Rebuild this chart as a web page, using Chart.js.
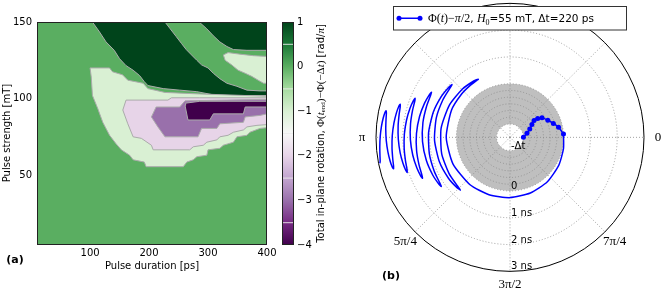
<!DOCTYPE html>
<html>
<head>
<meta charset="utf-8">
<script src="https://cdn.jsdelivr.net/npm/chart.js@4.4.0/dist/chart.umd.min.js"></script>
<style>
  html, body { margin: 0; padding: 0; background: #fff; }
  #wrap { position: relative; width: 664px; height: 292px; overflow: hidden; }
  #wrap canvas { position: absolute; left: 0; top: 0; }
</style>
</head>
<body>
<div id="wrap">
  <canvas id="contour" width="664" height="292"></canvas>
  <canvas id="cbar" width="664" height="292"></canvas>
  <canvas id="polar" width="664" height="292"></canvas>
</div>
<script>
// ---- panel (a): contour map, data units = [ps, mT] ----
const xTicks = [100, 200, 300, 400];
const yTicks = [50, 100, 150];
const cbarTicks = [1, 0, -1, -2, -3, -4];
const cbarLevels = [0.5, -0.5, -1.5, -2.5, -3.5];
const VMIN = -4, VMAX = 1;
const backgroundValue = 0;

// PRGn colour map stops
const prgn = ["#40004b", "#762a83", "#9970ab", "#c2a5cf", "#e7d4e8", "#f7f7f7",
              "#d9f0d3", "#a6dba0", "#5aae61", "#1b7837", "#00441b"];

// contour regions [duration, strength]
const regionA = [[104,150],[227,150],[235,146],[246,140.5],[255,136],[263,132],[272,128.5],[281,125],
  [289,122],[300,120],[309,116.5],[320,113],[332,110],[349,108],[366,105.5],[388,105],[400,105],
  [400,102],[315,102],[281,104.5],[252,105.5],[224,106.5],[198,108.5],[192,111],[184,115],
  [173,118.5],[161,121.5],[150,126],[141,131.5],[127,137],[116,143.5],[104,150]];
const regionB = [[285,150],[298,145.5],[309,141],[320,137],[332,134],[343,132],[366,131.5],[400,131.5],
  [400,150],[285,150]];
const regionC = [[326,128.5],[334,130],[354,129],[377,128],[400,127.5],[400,110],[394,110],[385,112],
  [374,114.5],[363,116.5],[351,118.5],[340,122],[329,125],[326,128.5]];
const regionD = [[100,120],[133,120],[138,117.5],[155,115.5],[164,112],[190,110],[198,106.5],[227,104],
  [286,103],[400,101.5],[400,81],[388,80.5],[371,78],[366,76],[349,75],[343,71.5],[326,69.5],
  [320,67.5],[300,66.5],[298,63],[281,62],[275,60],[264,58.5],[258,55.5],[195,55.5],[192,58.5],
  [173,60],[167,63],[153,66.5],[144,70.5],[133,76],[121.5,84.5],[113,93.5],[104,102],[102,114],[100,120]];
const regionE = [[161,99],[232,99],[238,100.5],[286,100.5],[400,100.5],[400,83],[383,82.5],[366,81.5],
  [360,79.5],[343,78],[334,76],[320,75],[315,73],[298,71.5],[292,69.5],[275,68.5],[269,66.5],
  [207,66.5],[204,69.5],[187,74],[173,75],[164,83.5],[155.5,92.5],[161,99]];
const regionF = [[212,94.5],[252,94.5],[261,98.5],[400,99.5],[400,90],[388,89],[363,88],[360,84.5],
  [320,83.5],[315,80.5],[289,80.5],[283,75],[227,75],[215,81.5],[204,88],[212,94.5]];
const regionG = [[262,97],[286,98.2],[400,98.2],[400,94.5],[363,94.5],[360,90],[309,90],[303,86],
  [266,86],[261,95.5],[262,97]];
const regions = [regionA, regionB, regionC, regionD, regionE, regionF, regionG];
const regionValues = [1, 1, -1, -1, -2, -3, -4];

// ---- panel (b): polar trajectory, r in plot units, phase in degrees ----
const pulseR = [0.5, 0.65, 0.8, 0.95, 1.1, 1.25, 1.4, 1.55, 1.7, 1.85, 2.0];
const pulsePhase = [0, 13.5, 22.8, 30.6, 35.3, 34.3, 31.5, 24.4, 17.9, 11.7, 3.6];

const relaxR = [
  2.00, 2.04, 2.10, 2.17, 2.22, 2.26, 2.29, 2.32, 2.35, 2.38, 2.41, 2.43, 2.45, 2.465,
  2.480, 2.508, 2.536, 2.564, 2.593, 2.621, 2.649, 2.677,
  2.705, 2.733, 2.761, 2.789, 2.818, 2.846, 2.874, 2.902,
  2.930, 2.958, 2.986, 3.014, 3.043, 3.071, 3.099, 3.127,
  3.155, 3.183, 3.211, 3.239, 3.268, 3.296, 3.324, 3.352,
  3.380, 3.408, 3.436, 3.464, 3.493, 3.521, 3.549, 3.577,
  3.605, 3.633, 3.661, 3.689, 3.718, 3.746, 3.774, 3.802,
  3.830, 3.858, 3.886, 3.914, 3.943, 3.971, 3.999, 4.027,
  4.055, 4.083, 4.111, 4.139, 4.168, 4.196, 4.224, 4.252,
  4.280, 4.308, 4.336, 4.364, 4.393, 4.421, 4.449, 4.477,
  4.505, 4.533, 4.561, 4.589, 4.618, 4.646, 4.674, 4.702,
  4.730, 4.758, 4.786, 4.814, 4.843, 4.871, 4.899, 4.927, 4.955];
const relaxPhase = [
  3.6, -12, -30, -50, -70, -90, -110, -130, -155, -180, -205, -222, -233, -239,
  -241.5, -237.4, -225.6, -208.1, -187.4, -166.6, -149.1, -137.3,
  -133.2, -136.6, -146.3, -160.8, -177.9, -194.9, -209.4, -219.1,
  -222.5, -219.5, -211.0, -198.4, -183.4, -168.4, -155.8, -147.3,
  -144.3, -146.8, -153.9, -164.6, -177.2, -189.7, -200.4, -207.5,
  -210.0, -207.9, -201.9, -193.0, -182.4, -171.8, -162.9, -156.9,
  -154.8, -156.6, -161.8, -169.5, -178.7, -187.8, -195.5, -200.7,
  -202.5, -200.9, -196.4, -189.7, -181.8, -173.8, -167.1, -162.6,
  -161.0, -162.4, -166.3, -172.1, -179.0, -185.8, -191.6, -195.5,
  -196.9, -195.7, -192.2, -187.0, -180.9, -174.7, -169.5, -166.0,
  -164.8, -165.8, -168.8, -173.3, -178.5, -183.7, -188.2, -191.2,
  -192.2, -191.3, -188.7, -184.9, -180.4, -175.9, -172.1, -169.5, -168.6];

const rGrid = [0.5, 0.75, 1, 1.25, 1.5, 1.75, 2, 3, 4];
const rMax = 5;
const shadeR = [0.5, 2];
const rTickValues = [0.5, 2, 3, 4, 5];
const rTickLabels = ["-\u0394t", "0", "1 ns", "2 ns", "3 ns"];
const thetaGrid = [0, 45, 90, 135, 180, 225, 270, 315];
const thetaTickValues = [0, 180, 225, 270, 315];
const thetaTickLabels = ["0", "\u03c0", "5\u03c0/4", "3\u03c0/2", "7\u03c0/4"];

const SANS = '"DejaVu Sans"';
const SERIF = '"Liberation Serif"';

function hexToRgb(h) {
  return [parseInt(h.slice(1, 3), 16), parseInt(h.slice(3, 5), 16), parseInt(h.slice(5, 7), 16)];
}

function cmap(v) {
  const t = (v - VMIN) / (VMAX - VMIN) * (prgn.length - 1);
  const i = Math.max(0, Math.min(prgn.length - 2, Math.floor(t)));
  const f = t - i;
  const a = hexToRgb(prgn[i]), b = hexToRgb(prgn[i + 1]);
  const c = a.map((x, k) => Math.round(x + (b[k] - x) * f));
  return "rgb(" + c.join(",") + ")";
}

function drawParts(ctx, parts, x, y) {
  let w = 0;
  parts.forEach((p) => { ctx.font = p.font; p.w = ctx.measureText(p.text).width; w += p.w; });
  let cx = x - w / 2;
  parts.forEach((p) => {
    ctx.font = p.font;
    ctx.fillText(p.text, cx, y + (p.dy || 0));
    cx += p.w;
  });
}

function toXY(r, deg) {
  const a = deg * Math.PI / 180;
  return { x: r * Math.cos(a), y: r * Math.sin(a) };
}

const tickFont = { family: SANS, size: 10 };

// ---------- (a) contour ----------
const contourFrame = {
  id: "contourFrame",
  beforeDatasetsDraw(chart) {
    const { ctx, chartArea: a } = chart;
    ctx.save();
    ctx.fillStyle = cmap(backgroundValue);
    ctx.fillRect(a.left, a.top, a.right - a.left, a.bottom - a.top);
    ctx.restore();
  },
  afterDatasetsDraw(chart) {
    const { ctx, chartArea: a } = chart;
    ctx.save();
    ctx.strokeStyle = "#222";
    ctx.lineWidth = 1;
    ctx.strokeRect(a.left + 0.5, a.top + 0.5, a.right - a.left - 1, a.bottom - a.top);
    ctx.fillStyle = "#000";
    ctx.font = "bold 11px " + SANS;
    ctx.textAlign = "center";
    ctx.textBaseline = "middle";
    ctx.fillText("(a)", 15, 260);
    ctx.restore();
  }
};

new Chart(document.getElementById("contour"), {
  type: "line",
  data: {
    datasets: regions.map((pts, i) => ({
      data: pts.map((p) => ({ x: p[0], y: p[1] })),
      order: -i,
      fill: "shape",
      backgroundColor: cmap(regionValues[i]),
      borderColor: "#ababab",
      borderWidth: 1,
      pointRadius: 0,
      tension: 0
    }))
  },
  options: {
    responsive: false,
    animation: false,
    layout: { padding: { left: 0, top: 22, right: 397, bottom: 0 } },
    plugins: { legend: { display: false }, tooltip: { enabled: false } },
    scales: {
      x: {
        type: "linear", min: 10, max: 400,
        afterBuildTicks: (s) => { s.ticks = xTicks.map((v) => ({ value: v })); },
        afterFit: (s) => { s.height = 48; },
        grid: { display: false, drawTicks: false },
        border: { display: false },
        ticks: { padding: 3, color: "#000", font: tickFont, maxRotation: 0, autoSkip: false },
        title: { display: true, text: "Pulse duration [ps]", color: "#000", font: tickFont,
                 padding: { top: 0, bottom: 20 } }
      },
      y: {
        type: "linear", min: 5, max: 150,
        afterBuildTicks: (s) => { s.ticks = yTicks.map((v) => ({ value: v })); },
        afterFit: (s) => { s.width = 37; },
        grid: { display: false, drawTicks: false },
        border: { display: false },
        ticks: { padding: 5, color: "#000", font: tickFont, autoSkip: false },
        title: { display: true, text: "Pulse strength [mT]", color: "#000", font: tickFont,
                 padding: { top: 1.5, bottom: 0 } }
      }
    }
  },
  plugins: [contourFrame]
});

// ---------- colour bar ----------
const cbarDecor = {
  id: "cbarDecor",
  afterDatasetsDraw(chart) {
    const { ctx, chartArea: a } = chart;
    ctx.save();
    ctx.strokeStyle = "#222";
    ctx.lineWidth = 1;
    ctx.strokeRect(a.left + 0.5, a.top + 0.5, a.right - a.left - 1, a.bottom - a.top - 1);
    ctx.translate(321, (a.top + a.bottom) / 2);
    ctx.rotate(-Math.PI / 2);
    ctx.fillStyle = "#000";
    ctx.textBaseline = "middle";
    drawParts(ctx, [
      { text: "Total in-plane rotation, ", font: "10px " + SANS },
      { text: "\u03a6(", font: "11px " + SERIF },
      { text: "t", font: "italic 11px " + SERIF },
      { text: "end", font: "7px " + SERIF, dy: 2 },
      { text: ")\u2212\u03a6(\u2212\u0394", font: "11px " + SERIF },
      { text: "t", font: "italic 11px " + SERIF },
      { text: ")", font: "11px " + SERIF },
      { text: " [rad/", font: "10px " + SANS },
      { text: "\u03c0", font: "italic 11px " + SERIF },
      { text: "]", font: "10px " + SANS }
    ], 0, 0);
    ctx.restore();
  }
};

new Chart(document.getElementById("cbar"), {
  type: "line",
  data: {
    datasets: [
      {
        data: [{ x: 0, y: VMIN }, { x: 1, y: VMIN }, { x: 1, y: VMAX }, { x: 0, y: VMAX }, { x: 0, y: VMIN }],
        order: 1,
        fill: "shape",
        borderWidth: 0,
        pointRadius: 0,
        backgroundColor: (c) => {
          const ys = c.chart.scales.y;
          const y0 = ys ? ys.getPixelForValue(VMIN) : NaN;
          const y1 = ys ? ys.getPixelForValue(VMAX) : NaN;
          if (!isFinite(y0) || !isFinite(y1)) return prgn[5];
          const g = c.chart.ctx.createLinearGradient(0, y0, 0, y1);
          prgn.forEach((col, i) => g.addColorStop(i / (prgn.length - 1), col));
          return g;
        }
      },
      ...cbarLevels.map((v) => ({
        data: [{ x: 0, y: v }, { x: 1, y: v }],
        order: 0,
        borderColor: "rgba(235,235,235,0.9)",
        borderWidth: 1,
        pointRadius: 0,
        fill: false
      }))
    ]
  },
  options: {
    responsive: false,
    animation: false,
    layout: { padding: { left: 282, top: 22, right: 350, bottom: 47 } },
    plugins: { legend: { display: false }, tooltip: { enabled: false } },
    scales: {
      x: { type: "linear", min: 0, max: 1, display: false },
      y: {
        type: "linear", position: "right", min: VMIN, max: VMAX,
        afterBuildTicks: (s) => { s.ticks = cbarTicks.map((v) => ({ value: v })); },
        afterFit: (s) => { s.width = 20; },
        grid: { display: false, drawTicks: false },
        border: { display: false },
        ticks: { padding: 3, color: "#000", font: tickFont, autoSkip: false,
                 callback: (v) => String(v).replace("-", "\u2212") }
      }
    }
  },
  plugins: [cbarDecor]
});

// ---------- (b) polar ----------
const polarGrid = {
  id: "polarGrid",
  beforeDatasetsDraw(chart) {
    const { ctx } = chart;
    const xs = chart.scales.x, ys = chart.scales.y;
    const cx = xs.getPixelForValue(0), cy = ys.getPixelForValue(0);
    const k = xs.getPixelForValue(1) - cx;
    ctx.save();
    // shaded pulse interval
    ctx.beginPath();
    ctx.arc(cx, cy, shadeR[1] * k, 0, 2 * Math.PI);
    ctx.arc(cx, cy, shadeR[0] * k, 0, 2 * Math.PI, true);
    ctx.fillStyle = "#bfbfbf";
    ctx.fill();
    // grid
    ctx.setLineDash([1, 2]);
    ctx.lineWidth = 0.8;
    ctx.strokeStyle = "#8a8a8a";
    rGrid.forEach((r) => {
      ctx.beginPath();
      ctx.arc(cx, cy, r * k, 0, 2 * Math.PI);
      ctx.stroke();
    });
    thetaGrid.forEach((d) => {
      const p = toXY(rMax, d);
      ctx.beginPath();
      ctx.moveTo(cx, cy);
      ctx.lineTo(xs.getPixelForValue(p.x), ys.getPixelForValue(p.y));
      ctx.stroke();
    });
    ctx.setLineDash([]);
    // radial labels
    ctx.fillStyle = "#000";
    ctx.font = "10px " + SANS;
    ctx.textAlign = "left";
    ctx.textBaseline = "bottom";
    rTickValues.forEach((r, i) => {
      ctx.fillText(rTickLabels[i], cx + 1, ys.getPixelForValue(-r) + 1);
    });
    ctx.restore();
  },
  afterDatasetsDraw(chart) {
    const { ctx } = chart;
    const xs = chart.scales.x, ys = chart.scales.y;
    const cx = xs.getPixelForValue(0), cy = ys.getPixelForValue(0);
    const k = xs.getPixelForValue(1) - cx;
    ctx.save();
    ctx.strokeStyle = "#000";
    ctx.lineWidth = 1;
    ctx.beginPath();
    ctx.arc(cx, cy, rMax * k, 0, 2 * Math.PI);
    ctx.stroke();
    // angle labels
    ctx.fillStyle = "#000";
    ctx.font = "13px " + SERIF;
    ctx.textAlign = "center";
    ctx.textBaseline = "middle";
    thetaTickValues.forEach((d, i) => {
      const p = toXY(rMax * 1.105, d);
      ctx.fillText(thetaTickLabels[i], xs.getPixelForValue(p.x), ys.getPixelForValue(p.y));
    });
    // legend
    const bx = 393.5, by = 6.5, bw = 233, bh = 23.5;
    ctx.fillStyle = "#fff";
    ctx.fillRect(bx, by, bw, bh);
    ctx.strokeStyle = "#333";
    ctx.strokeRect(bx, by, bw, bh);
    const ly = by + bh / 2;
    ctx.strokeStyle = "#0000ff";
    ctx.lineWidth = 1.5;
    ctx.beginPath();
    ctx.moveTo(399, ly);
    ctx.lineTo(420, ly);
    ctx.stroke();
    ctx.fillStyle = "#0000ff";
    [399, 420].forEach((x) => {
      ctx.beginPath();
      ctx.arc(x, ly, 2.5, 0, 2 * Math.PI);
      ctx.fill();
    });
    ctx.fillStyle = "#000";
    ctx.textAlign = "left";
    ctx.textBaseline = "alphabetic";
    const parts = [
      { text: "\u03a6(", font: "12px " + SERIF },
      { text: "t", font: "italic 12px " + SERIF },
      { text: ")\u2212", font: "12px " + SERIF },
      { text: "\u03c0", font: "italic 12px " + SERIF },
      { text: "/2", font: "12px " + SERIF },
      { text: ", ", font: "10.5px " + SANS },
      { text: "H", font: "italic 12px " + SERIF },
      { text: "0", font: "8px " + SERIF, dy: 2.5 },
      { text: "=55 mT, \u0394t=220 ps", font: "10.5px " + SANS }
    ];
    let w = 0;
    parts.forEach((p) => { ctx.font = p.font; p.w = ctx.measureText(p.text).width; w += p.w; });
    drawParts(ctx, parts, 428 + w / 2, ly + 4);
    // panel tag
    ctx.font = "bold 11px " + SANS;
    ctx.textAlign = "center";
    ctx.textBaseline = "middle";
    ctx.fillText("(b)", 391, 276);
    ctx.restore();
  }
};

new Chart(document.getElementById("polar"), {
  type: "line",
  data: {
    datasets: [
      {
        data: relaxR.map((r, i) => toXY(r, relaxPhase[i])),
        order: 1,
        borderColor: "#0000ff",
        borderWidth: 1.5,
        pointRadius: 0,
        tension: 0.2,
        fill: false
      },
      {
        data: pulseR.map((r, i) => toXY(r, pulsePhase[i])),
        order: 0,
        borderColor: "#0000ff",
        backgroundColor: "#0000ff",
        borderWidth: 1.5,
        pointRadius: 2.5,
        pointBorderWidth: 0,
        tension: 0.3,
        fill: false
      }
    ]
  },
  options: {
    responsive: false,
    animation: false,
    layout: { padding: { left: 376, top: 2.7, right: 20, bottom: 21.3 } },
    plugins: { legend: { display: false }, tooltip: { enabled: false } },
    scales: {
      x: { type: "linear", min: -rMax, max: rMax, display: false },
      y: { type: "linear", min: -rMax, max: rMax, display: false }
    }
  },
  plugins: [polarGrid]
});
</script>
</body>
</html>
